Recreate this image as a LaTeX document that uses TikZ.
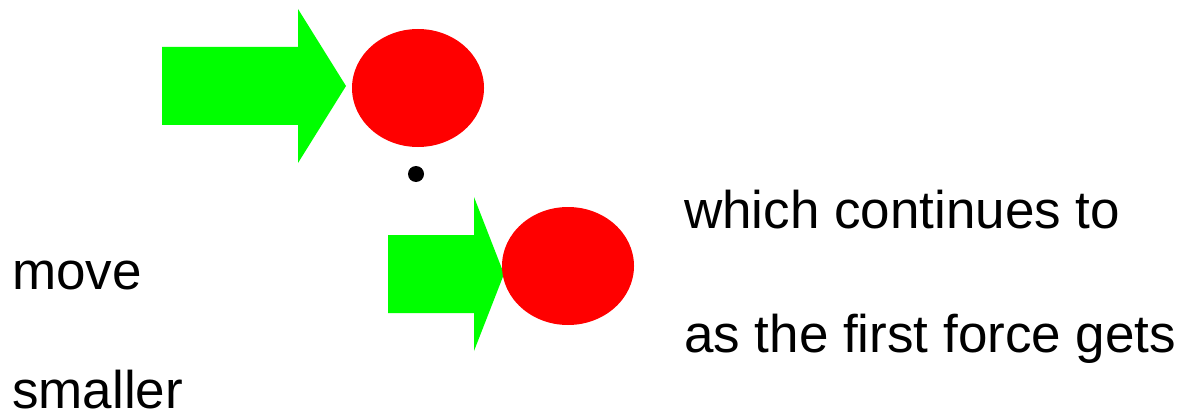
\documentclass[tikz,border=0pt]{standalone}
\usepackage{fontspec}
\setmainfont{Liberation Sans}
\usetikzlibrary{shapes.geometric}
\definecolor{fgreen}{RGB}{0,255,0}
\definecolor{fred}{RGB}{255,0,0}
\begin{document}
\begin{tikzpicture}[x=1pt,y=-1pt,
  force/.style={fill=fgreen,draw=none},
  ball/.style={ellipse,fill=fred,draw=none,inner sep=0,minimum width=132pt,minimum height=118pt},
  label/.style={anchor=base west,inner sep=0,font=\fontsize{53}{60}\selectfont}]
\useasboundingbox (0,0) rectangle (1185,417);
% first arrow and ball
\fill[force] (162,47) -- (298,47) -- (298,9) -- (346,86) -- (298,163) -- (298,125) -- (162,125) -- cycle;
\node[ball] (b1) at (418,88) {};
\fill (416,174) circle (8);
% second arrow and ball
\fill[force] (388,235) -- (474,235) -- (474,197) -- (504,274) -- (474,351) -- (474,313) -- (388,313) -- cycle;
\node[ball] (b2) at (568,266) {};
% texts
\node[label] (t1) at (684,228) {which continues to};
\node[label] (t2) at (684,352) {as the first force gets};
\node[label] (t3) at (12,289) {move};
\node[label] (t4) at (12,408) {smaller};
\end{tikzpicture}
\end{document}
